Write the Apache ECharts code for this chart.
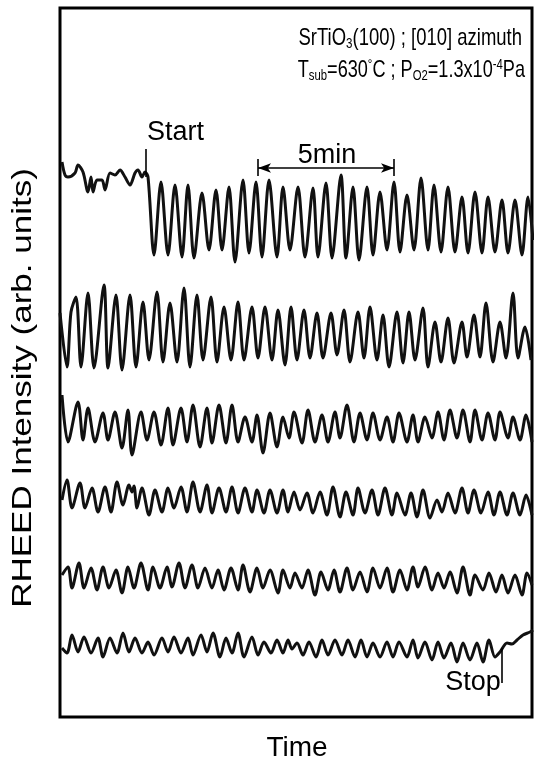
<!DOCTYPE html>
<html><head><meta charset="utf-8">
<script src="https://cdn.jsdelivr.net/npm/echarts@6/dist/echarts.min.js"></script>
<style>html,body{margin:0;padding:0;background:#fff}#c{width:534px;height:762px}</style>
</head><body><div id="c"></div>
<script>
// time (arb.) , intensity (arb.) — vertices of each RHEED trace, top to bottom
const trace1 = [[2,555],[5,542],[8,540],[15,544],[18,552],[23,545],[28,525],[31,540],[33,525],[37,537],[42,537],[45,527],[50,544],[55,542],[60,547],[65,540],[70,532],[75,544],[78,547],[82,540],[85,545],[88,540],
[94,462],[101,535],[108,462],[115,532],[122,460],[128,532],[134,459],[142,524],[149,467],[156,527],[162,467],[169,530],[175,455],[183,537],[189,464],[196,535],[202,460],[209,537],[217,460],[223,530],[230,467],[238,530],[245,460],[253,529],[258,460],[266,534],[272,459],[281,542],[286,459],[293,530],[299,457],[307,530],[313,462],[320,525],[327,467],[334,535],[340,465],[347,522],[354,467],[361,539],[368,467],[374,532],[381,465],[388,530],[395,465],[402,520],[408,464],[415,525],[422,464],[428,520],[435,465],[442,517],[448,464],[455,517],[462,462],[468,520],[473,477]];
const trace2 = [[0,404],[7,350],[11,405],[16,420],[21,350],[28,424],[34,349],[44,432],[48,349],[56,422],[62,347],[70,422],[76,350],[83,415],[89,357],[97,425],[103,355],[110,414],[117,355],[124,429],[130,350],[137,422],[143,357],[151,420],[157,355],[164,410],[171,357],[178,415],[184,357],[192,410],[198,359],[205,410],[212,357],[218,407],[225,352],[231,410],[237,357],[244,407],[250,359],[257,404],[263,359],[271,404],[277,362],[284,407],[290,355],[298,405],[304,359],[310,410],[317,357],[323,402],[329,350],[337,405],[343,354],[349,405],[355,357],[363,409],[368,350],[375,395],[381,355],[388,399],[394,354],[402,395],[407,360],[414,402],[420,360],[426,414],[433,355],[440,395],[446,359],[453,424],[458,359],[465,390],[471,357]];
const trace3 = [[2,322],[8,275],[18,315],[23,277],[28,309],[35,275],[43,304],[48,277],[55,305],[62,269],[68,307],[72,262],[81,305],[87,277],[94,305],[101,272],[108,309],[113,272],[121,309],[127,275],[133,312],[140,270],[147,309],[152,274],[159,312],[166,274],[172,312],[178,275],[185,300],[192,275],[197,302],[203,264],[210,304],[217,270],[223,300],[229,279],[234,305],[242,274],[248,307],[255,275],[262,302],[268,275],[275,305],[280,279],[287,312],[294,275],[300,304],[307,277],[313,304],[320,277],[327,300],[333,275],[339,304],[347,275],[353,302],[358,275],[365,300],[372,279],[378,305],[384,277],[390,307],[397,279],[403,307],[410,275],[415,307],[422,277],[428,304],[435,277],[440,305],[448,279],[453,300],[460,277],[466,302],[472,275]];
const trace4 = [[2,217],[7,237],[12,209],[20,234],[25,209],[32,229],[38,205],[45,230],[51,205],[57,235],[63,212],[69,232],[72,225],[74,231],[77,209],[82,229],[89,202],[95,227],[102,205],[108,229],[114,209],[121,230],[127,205],[133,235],[140,205],[147,232],[152,204],[159,229],[166,205],[172,230],[178,204],[185,229],[192,205],[197,227],[204,204],[210,227],[217,204],[223,227],[228,205],[234,225],[240,207],[247,224],[253,204],[260,225],[267,202],[273,230],[280,200],[286,225],[293,202],[298,229],[305,204],[312,227],[318,202],[325,229],[332,202],[337,224],[345,202],[351,224],[357,200],[363,227],[370,199],[377,217],[382,205],[388,224],[395,204],[402,229],[408,204],[414,227],[421,204],[428,225],[434,202],[440,225],[447,202],[453,224],[460,202],[466,222],[472,202]];
const trace5 = [[2,142],[8,150],[12,129],[19,154],[24,129],[31,149],[37,127],[43,150],[49,129],[56,147],[62,124],[68,150],[74,129],[81,154],[88,127],[93,150],[100,129],[107,150],[112,130],[119,154],[125,129],[132,152],[138,129],[145,149],[152,129],[158,147],[164,127],[171,149],[178,127],[183,152],[190,125],[197,149],[203,129],[210,147],[218,124],[223,147],[230,129],[235,144],[242,129],[248,147],[255,122],[261,145],[268,127],[274,147],[280,125],[287,149],[293,127],[300,145],[307,125],[313,149],[320,129],[327,149],[333,125],[340,147],[347,127],[353,150],[358,130],[365,150],[372,127],[378,144],[384,129],[390,145],[397,124],[403,150],[410,122],[415,142],[423,127],[429,144],[436,125],[442,142],[448,124],[455,142],[462,122],[467,144],[472,132]];
const trace6 = [[2,69],[7,64],[12,82],[18,65],[24,80],[31,64],[38,79],[43,60],[50,79],[57,64],[63,84],[69,65],[75,79],[82,64],[88,75],[94,62],[102,79],[108,65],[114,80],[121,64],[128,79],[133,62],[141,82],[147,65],[153,84],[160,60],[166,79],[172,64],[178,84],[184,60],[192,80],[198,62],[204,75],[211,64],[217,77],[223,64],[228,77],[232,68],[237,74],[243,62],[249,75],[256,60],[262,77],[268,62],[275,77],[282,62],[288,77],[295,60],[301,77],[307,60],[313,74],[320,60],[327,75],[333,60],[339,75],[347,60],[353,77],[358,59],[365,75],[372,57],[378,75],[384,59],[391,74],[397,55],[403,74],[410,57],[417,74],[423,55],[429,77],[435,60],[440,65],[447,74],[452,73],[457,77],[463,82],[470,85],[473,87]];
// annotations: [time, intensity from, intensity to]
const startMark = [86, 568, 540];
const stopMark = [442, 69, 34];
const fiveMin = [198, 334, 549];

const chart = echarts.init(document.getElementById('c'), null, {renderer:'canvas'});
const F = "'Liberation Sans', Arial, Helvetica, sans-serif";
const traceStyle = {color:'#111', width:3};
const traces = [trace1, trace2, trace3, trace4, trace5, trace6];
const series = traces.map((d,i)=>({
  type:'line', data:d, showSymbol:false, smooth:0.3, silent:true,
  lineStyle:traceStyle, animation:false, z:3
}));
series[0].markLine = {
  silent:true, symbol:'none', animation:false,
  label:{show:false},
  lineStyle:{color:'#000', width:1.6, type:'solid'},
  data:[
    [{coord:[startMark[0], startMark[1]]},{coord:[startMark[0], startMark[2]]}],
    [{coord:[stopMark[0], stopMark[1]]},{coord:[stopMark[0], stopMark[2]]}],
    [{coord:[fiveMin[0], fiveMin[2]+9]},{coord:[fiveMin[0], fiveMin[2]-8]}],
    [{coord:[fiveMin[1], fiveMin[2]+9]},{coord:[fiveMin[1], fiveMin[2]-8]}],
    [{coord:[fiveMin[0], fiveMin[2]], symbol:'arrow', symbolSize:[7,13]},{coord:[fiveMin[1], fiveMin[2]], symbol:'arrow', symbolSize:[7,13]}]
  ]
};
chart.setOption({
  animation:false,
  grid:{left:60, right:2, top:8, bottom:45, show:true, borderColor:'#000', borderWidth:3, backgroundColor:'transparent'},
  xAxis:{type:'value', min:0, max:472, show:false},
  yAxis:{type:'value', min:0, max:709, show:false},
  series:series,
  graphic:[
    {type:'text', x:522, y:38, scaleX:0.77, style:{text:'SrTiO{s|3}(100) ; [010] azimuth', font:'24px '+F, fill:'#000', align:'right', verticalAlign:'middle',
      rich:{s:{fontSize:15, fontFamily:'Liberation Sans', padding:[11,0,0,0]}}}},
    {type:'text', x:525, y:70, scaleX:0.755, style:{text:'T{s|sub}=630{u|°}C ; P{s|O2}=1.3x10{u|-4}Pa', font:'24px '+F, fill:'#000', align:'right', verticalAlign:'middle',
      rich:{s:{fontSize:15, fontFamily:'Liberation Sans', padding:[11,0,0,0]}, u:{fontSize:15, fontFamily:'Liberation Sans', padding:[0,0,11,0]}}}},
    {type:'text', x:147, y:133, style:{text:'Start', font:'27px '+F, fill:'#000', align:'left', verticalAlign:'middle'}},
    {type:'text', x:327, y:156, style:{text:'5min', font:'27px '+F, fill:'#000', align:'center', verticalAlign:'middle'}},
    {type:'text', x:473, y:683, style:{text:'Stop', font:'27px '+F, fill:'#000', align:'center', verticalAlign:'middle'}},
    {type:'text', x:297, y:748, style:{text:'Time', font:'28px '+F, fill:'#000', align:'center', verticalAlign:'middle'}},
    {type:'text', x:23, y:388, rotation:Math.PI/2, scaleX:1.25, style:{text:'RHEED Intensity (arb. units)', font:'28px '+F, fill:'#000', align:'center', verticalAlign:'middle'}}
  ]
});
</script></body></html>
